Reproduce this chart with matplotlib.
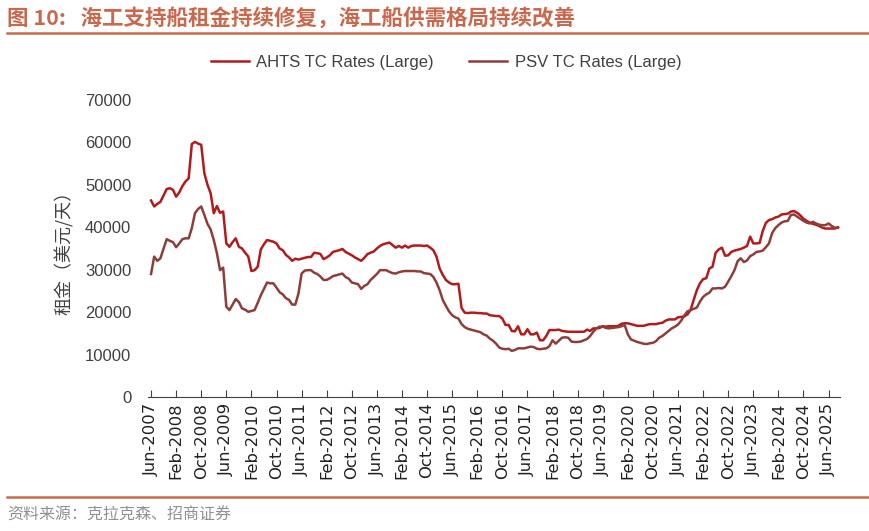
import matplotlib
matplotlib.use("Agg")
import matplotlib.pyplot as plt
import pandas as pd

plt.rcParams['font.family'] = ['Liberation Sans', 'Noto Sans CJK SC', 'DejaVu Sans']

# monthly charter rates, USD/day, Jun-2007 .. Sep-2025
months = pd.date_range('2007-06-01', '2025-09-01', freq='MS')

ahts = [
    46300, 44900, 45500, 46000, 47500, 49000, 49200, 48800, 47200, 48200, 49700, 50800,
    51500, 59600, 60100, 59700, 59400, 52700, 50000, 48000, 43300, 45000, 43400, 43700,
    36200, 35400, 36500, 37400, 35400, 35000, 34000, 33100, 29700, 29900, 30700, 34800,
    36000, 37000, 36800, 36600, 36200, 35000, 34600, 33500, 32900, 32100, 32600, 32400,
    32600, 32800, 33000, 33000, 34000, 33900, 33700, 32500, 32900, 33400, 34200, 34400,
    34600, 34900, 34200, 33800, 33400, 32900, 32500, 32100, 32800, 33700, 34000, 34300,
    35000, 35600, 36000, 36200, 36400, 35800, 35200, 35600, 35200, 35700, 35200, 35600,
    35700, 35700, 35700, 35600, 35700, 35200, 34600, 33100, 30300, 28800, 27600, 27000,
    26600, 26600, 26700, 21000, 19900, 19800, 19900, 19900, 19800, 19800, 19700, 19700,
    19300, 19200, 19100, 19100, 18500, 17000, 17000, 15600, 15500, 16700, 14800, 14800,
    16000, 14800, 14800, 15200, 13400, 13400, 14400, 15800, 15800, 15800, 15900, 15600,
    15500, 15400, 15400, 15400, 15400, 15400, 15400, 15900, 15600, 16200, 16200, 16300,
    16700, 16600, 16700, 16700, 16700, 16800, 17300, 17400, 17400, 17200, 17000, 16800,
    16800, 16800, 17000, 17200, 17200, 17200, 17400, 17500, 18000, 18300, 18300, 18300,
    18800, 18900, 19000, 19500, 20500, 22900, 25200, 26800, 27800, 28000, 30300, 30700,
    34000, 34800, 35200, 33300, 33400, 34200, 34500, 34700, 34900, 35200, 35600, 37800,
    36200, 36200, 36300, 39100, 41000, 41700, 41900, 42300, 42500, 43000, 43100, 43200,
    43700, 43800, 43400, 42800, 42000, 41500, 41100, 40800, 40600, 40300, 39900, 39700,
    39700, 39700, 39700, 40000,
]

psv = [
    29000, 33100, 32100, 32700, 35000, 37200, 36800, 36500, 35300, 36200, 37200, 37400,
    37400, 39800, 43300, 44300, 44900, 42900, 40800, 39500, 37000, 33900, 29900, 30500,
    21300, 20500, 21800, 23100, 22400, 20900, 20600, 20100, 20300, 20500, 22200, 24000,
    25500, 27000, 26800, 26800, 25800, 24700, 24200, 23300, 22900, 21800, 21800, 24400,
    29100, 29800, 29900, 29900, 29300, 29000, 28400, 27600, 27600, 28000, 28500, 28700,
    28900, 29100, 28300, 27900, 27000, 26800, 26600, 25500, 26200, 26600, 27600, 28300,
    29000, 29900, 29900, 29900, 29500, 29200, 29100, 29400, 29600, 29700, 29700, 29700,
    29700, 29600, 29600, 29200, 29100, 29000, 28300, 27000, 25200, 22900, 21500, 20200,
    19300, 18800, 18500, 17200, 16500, 16100, 15900, 15700, 15500, 15300, 14800, 14500,
    13800, 13300, 12600, 11700, 11400, 11300, 11400, 10900, 11100, 11500, 11500, 11500,
    11700, 11900, 11800, 11400, 11300, 11400, 11500, 12000, 13400, 12600, 13300, 14000,
    14100, 14000, 13100, 13000, 13000, 13100, 13400, 13700, 14400, 15400, 16200, 16600,
    16600, 16300, 16200, 16300, 16400, 16500, 16700, 17000, 14800, 13600, 13300, 13000,
    12800, 12600, 12500, 12700, 12800, 13200, 14000, 14400, 15000, 15600, 16200, 16600,
    17100, 18000, 19200, 20200, 20500, 20800, 21100, 22500, 23600, 24200, 24600, 25600,
    25600, 25700, 25600, 26000, 27200, 28500, 29900, 32000, 32700, 31800, 32200, 33200,
    33600, 34200, 34300, 34500, 35300, 36200, 38600, 39800, 40500, 41100, 41400, 41500,
    42900, 43000, 42500, 42000, 41500, 41100, 40900, 41300, 40900, 40600, 40500, 40500,
    40900, 40300, 39900, 39900,
]

yticks = [0, 10000, 20000, 30000, 40000, 50000, 60000, 70000]

title_color = '#C8694E'
red = '#B01C1C'
brown = '#8E3E3A'

fig = plt.figure(figsize=(8.7, 5.31), dpi=100)
ax = fig.add_axes([0.170, 0.252, 0.795, 0.560])

x = list(range(len(months)))
ax.plot(x, ahts, color=red, lw=1.8, label='AHTS TC Rates (Large)')
ax.plot(x, psv, color=brown, lw=1.8, label='PSV TC Rates (Large)')

ax.set_ylim(0, 70000)
ax.set_xlim(-1, len(months) - 0.5)
ax.set_yticks(yticks)
ax.set_yticklabels([str(v) for v in yticks], fontsize=12, color='#404040')
ax.tick_params(axis='y', length=0, pad=12)

xt = x[::8]
ax.set_xticks(xt)
ax.set_xticklabels([months[i].strftime('%b-%Y') for i in xt], rotation=90,
                   fontsize=11.8, color='#202020', family='DejaVu Sans')
ax.tick_params(axis='x', direction='in', length=5, color='#404040', pad=4)

for s in ['top', 'right', 'left']:
    ax.spines[s].set_visible(False)
ax.spines['bottom'].set_color('#404040')

ax.set_ylabel('租金（美元/天）', fontsize=13, color='#404040', labelpad=8,
              family=['Noto Sans CJK SC', 'DejaVu Sans'])

ax.legend(loc='center', bbox_to_anchor=(0.431, 1.127), ncol=2, frameon=False,
          fontsize=12, handlelength=2.3, handletextpad=0.45, columnspacing=2.1,
          labelcolor='#404040')

fig.text(0.008, 0.966, '图 10:   海工支持船租金持续修复，海工船供需格局持续改善',
         fontsize=15.5, fontweight='bold', color=title_color, va='center',
         family=['Noto Sans CJK SC', 'DejaVu Sans'])
fig.add_artist(plt.Line2D([0.008, 0.998], [0.937, 0.937], color=title_color, lw=1.8))
fig.add_artist(plt.Line2D([0.008, 0.998], [0.064, 0.064], color=title_color, lw=1.8))
fig.text(0.008, 0.030, '资料来源：克拉克森、招商证券', fontsize=11.5, color='#909090',
         va='center', family=['Noto Sans CJK SC', 'DejaVu Sans'])

fig.savefig('out.png', dpi=100)
